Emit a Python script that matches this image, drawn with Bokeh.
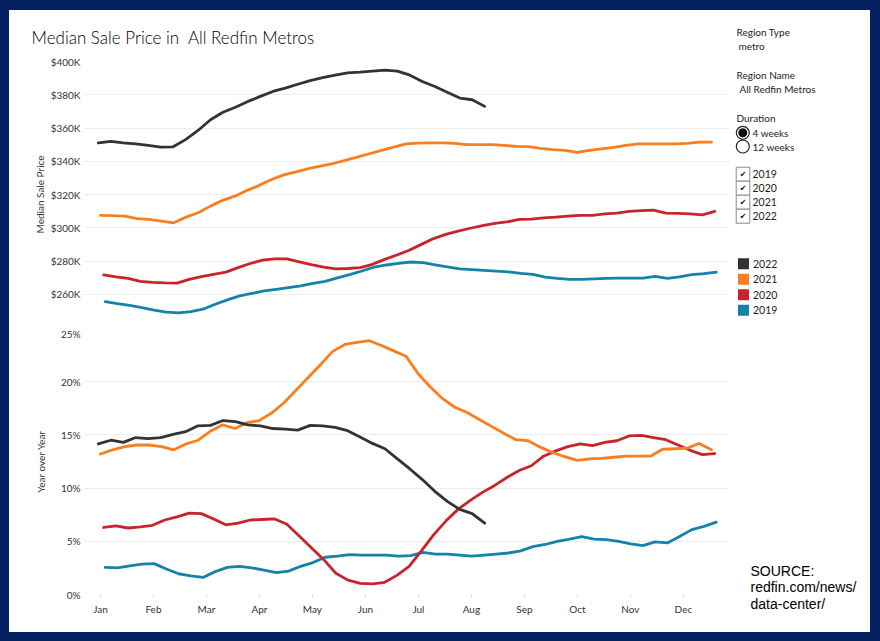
import numpy as np
from bokeh.plotting import figure
from bokeh.layouts import row, column
from bokeh.models import Range1d, FixedTicker, Spacer, GlobalInlineStyleSheet
from bokeh.core.properties import value
from bokeh.embed import file_html
from bokeh.resources import INLINE

# ---------------- data ----------------
MONTHS = ["Jan", "Feb", "Mar", "Apr", "May", "Jun", "Jul", "Aug", "Sep", "Oct", "Nov", "Dec"]
MONTH_TICKS = list(range(12))

YEARS = ["2022", "2021", "2020", "2019"]
COLORS = ["#333333", "#FA7D1E", "#C9232B", "#1483A7"]

# first / last weekly data point of each year, in months after Jan 1
WEEK_SPAN = {
    "2022": (-0.04, 7.25),
    "2021": (0.00, 11.53),
    "2020": (0.06, 11.59),
    "2019": (0.09, 11.62),
}

PRICE_TICKS = [240, 260, 280, 300, 320, 340, 360, 380, 400]
PRICE_LABELS = ["", "$260K", "$280K", "$300K", "$320K", "$340K", "$360K", "$380K", "$400K"]
YOY_TICKS = [0, 5, 10, 15, 20, 25]
YOY_LABELS = ["0%", "5%", "10%", "15%", "20%", "25%"]

# median sale price, $K
PRICE_2022 = [351, 352, 351, 350.5, 349.5, 348.5, 348.7, 353, 358.5, 365,
              369.5, 372.5, 376, 379, 382, 384, 386.3, 388.5, 390.3, 391.8,
              393.2, 393.6, 394.2, 394.8, 394.2, 391.8, 388, 385, 381.5, 378,
              377, 373]
PRICE_2021 = [307.4, 307.3, 307, 305.5, 305, 304, 303, 306.4, 309, 313,
              316.5, 319, 322.5, 325.5, 329, 331.8, 333.6, 335.5, 337, 338.5,
              340.5, 342.5, 344.5, 346.5, 348.5, 350.5, 350.9, 351, 351, 350.8,
              350, 350, 350, 349.5, 349, 348.8, 347.8, 347, 346.5, 345.3,
              346.5, 347.5, 348.3, 349.5, 350.5, 350.5, 350.5, 350.5, 350.7, 351.5,
              351.5]
PRICE_2020 = [271.7, 270.5, 269.5, 267.8, 267.2, 266.8, 266.7, 268.9, 270.6, 271.9,
              273.3, 276, 278.5, 280.5, 281.3, 281.3, 279.5, 277.8, 276.3, 275.3,
              275.5, 276, 278, 281, 283.6, 286.5, 290, 293.5, 296, 298,
              299.7, 301.3, 302.6, 303.5, 305, 305.2, 306, 306.4, 307, 307.4,
              307.4, 308.4, 308.8, 309.8, 310.3, 310.6, 308.8, 308.6, 308.3, 307.8,
              309.8]
PRICE_2019 = [255.6, 254.3, 253.3, 252, 250.5, 249.3, 248.8, 249.6, 251, 254,
              256.6, 259, 260.5, 262, 263, 264, 265, 266.5, 267.8, 269.8,
              271.8, 274, 276.3, 277.6, 278.6, 279.4, 279, 277.7, 276.5, 275.3,
              274.8, 274.4, 273.9, 273.5, 272.6, 272, 270.3, 269.5, 269, 268.9,
              269.3, 269.6, 269.7, 269.7, 269.7, 270.7, 269.5, 270.5, 271.8, 272.4,
              273.3]

# year over year change, %
YOY_2022 = [14.15, 14.5, 14.3, 14.75, 14.65, 14.75, 15.05, 15.3, 15.85, 15.9,
            16.35, 16.25, 15.95, 15.85, 15.6, 15.55, 15.45, 15.9, 15.85, 15.7,
            15.4, 14.8, 14.2, 13.7, 12.75, 11.8, 10.8, 9.7, 8.75, 8.0,
            7.6, 6.7]
YOY_2021 = [13.2, 13.6, 13.9, 14.05, 14.05, 13.9, 13.6, 14.15, 14.5, 15.35,
            15.95, 15.6, 16.15, 16.35, 17.05, 18.0, 19.2, 20.4, 21.6, 22.85,
            23.5, 23.7, 23.85, 23.4, 22.9, 22.4, 20.75, 19.5, 18.4, 17.6,
            17.1, 16.45, 15.8, 15.15, 14.55, 14.45, 13.85, 13.35, 12.95, 12.6,
            12.75, 12.8, 12.9, 13.0, 13.0, 13.0, 13.65, 13.7, 13.75, 14.2,
            13.6]
YOY_2020 = [6.3, 6.45, 6.25, 6.35, 6.5, 7.0, 7.3, 7.65, 7.6, 7.1,
            6.55, 6.7, 7.0, 7.05, 7.1, 6.6, 5.5, 4.4, 3.3, 2.0,
            1.35, 1.05, 1.0, 1.15, 1.8, 2.65, 4.1, 5.6, 6.9, 8.0,
            8.85, 9.6, 10.25, 11.0, 11.65, 12.1, 13.0, 13.5, 13.9, 14.15,
            14.0, 14.3, 14.45, 14.9, 14.95, 14.75, 14.55, 14.05, 13.55, 13.15,
            13.25]
YOY_2019 = [2.55, 2.5, 2.7, 2.85, 2.9, 2.4, 1.95, 1.75, 1.6, 2.15,
            2.55, 2.65, 2.5, 2.3, 2.05, 2.2, 2.65, 3.0, 3.5, 3.6,
            3.75, 3.7, 3.7, 3.7, 3.6, 3.65, 3.95, 3.8, 3.8, 3.7,
            3.6, 3.7, 3.8, 3.9, 4.1, 4.5, 4.7, 5.0, 5.2, 5.45,
            5.2, 5.15, 5.0, 4.75, 4.6, 4.95, 4.85, 5.45, 6.1, 6.4,
            6.8]

PRICES = {"2022": PRICE_2022, "2021": PRICE_2021, "2020": PRICE_2020, "2019": PRICE_2019}
YOYS = {"2022": YOY_2022, "2021": YOY_2021, "2020": YOY_2020, "2019": YOY_2019}

TITLE = "Median Sale Price in \u00a0All Redfin Metros"
FILTERS = [("Region Type", "metro"), ("Region Name", "All Redfin Metros")]
DURATIONS = ["4 weeks", "12 weeks"]
CHECKED_YEARS = ["2019", "2020", "2021", "2022"]
SOURCE = ["SOURCE:", "redfin.com/news/", "data-center/"]

# ---------------- style ----------------
FONT = "Lato"
TXT = "#333333"
GRID = "#EDEDED"
NAVY = "#022060"
X_RANGE = (-0.32, 11.87)


def style_y(p, ticks, labels, title, title_standoff):
    ax = p.yaxis[0]
    ax.ticker = FixedTicker(ticks=ticks)
    ax.major_label_overrides = dict(zip(ticks, labels))
    ax.axis_label = title
    ax.axis_label_text_font = FONT
    ax.axis_label_text_font_size = "10px"
    ax.axis_label_text_font_style = "normal"
    ax.axis_label_text_color = TXT
    ax.axis_label_standoff = title_standoff
    ax.major_label_text_font = FONT
    ax.major_label_text_font_size = "10px"
    ax.major_label_text_color = TXT
    ax.major_label_standoff = 3
    ax.axis_line_color = None
    ax.major_tick_line_color = None
    ax.major_tick_out = 0
    ax.major_tick_in = 0
    ax.minor_tick_line_color = None
    p.ygrid.grid_line_color = GRID
    p.xgrid.visible = False
    p.outline_line_color = None


top = figure(title=TITLE, frame_width=646, frame_height=266,
             min_border_left=74, min_border_right=0, min_border_top=51, min_border_bottom=0,
             x_range=Range1d(*X_RANGE), y_range=Range1d(240, 400),
             x_axis_location=None, output_backend="svg", toolbar_location=None)
top.title.align = "left"
top.title.offset = -52
top.title.standoff = 27
top.title.text_font = "Lato Light, Lato"
top.title.text_font_size = "17px"
top.title.text_font_style = "normal"
top.title.text_color = "#000000"
style_y(top, PRICE_TICKS, PRICE_LABELS, "Median Sale Price", 2)

bot = figure(title=None, frame_width=646, frame_height=266,
             min_border_left=74, min_border_right=0, min_border_top=1, min_border_bottom=38,
             x_range=Range1d(*X_RANGE), y_range=Range1d(0, 25),
             output_backend="svg", toolbar_location=None)
style_y(bot, YOY_TICKS, YOY_LABELS, "Year over Year", 11)
xa = bot.xaxis[0]
xa.ticker = FixedTicker(ticks=MONTH_TICKS)
xa.major_label_overrides = dict(zip(MONTH_TICKS, MONTHS))
xa.major_label_text_font = FONT
xa.major_label_text_font_size = "10px"
xa.major_label_text_color = TXT
xa.major_label_standoff = 5
xa.axis_line_color = None
xa.major_tick_line_color = "#D9D9D9"
xa.major_tick_out = 3
xa.major_tick_in = 0
xa.minor_tick_line_color = None

for year, color in reversed(list(zip(YEARS, COLORS))):
    start, end = WEEK_SPAN[year]
    xs = np.linspace(start, end, len(PRICES[year]))
    top.line(xs, PRICES[year], line_color=color, line_width=2.8,
             line_join="round", line_cap="round")
    xs2 = np.linspace(start, end, len(YOYS[year]))
    bot.line(xs2, YOYS[year], line_color=color, line_width=2.8,
             line_join="round", line_cap="round")

# ---------------- side panel (filters, legend, source) ----------------
side = figure(title=None, width=141, height=622, x_range=Range1d(0, 141), y_range=Range1d(622, 0),
              min_border=0, min_border_left=0, min_border_right=0, min_border_top=0, min_border_bottom=0,
              x_axis_location=None, y_axis_location=None,
              output_backend="svg", toolbar_location=None)
side.grid.visible = False
side.outline_line_color = None

def side_text(x, y, texts, size="10px", font=FONT, color="#222222", align="left"):
    side.text(x=x, y=y, text=texts, text_font=value(font), text_font_size=size,
              text_color=color, text_baseline="middle", text_align=align)

side_text([7, 9], [21, 35], [FILTERS[0][0], FILTERS[0][1]])
side_text([7, 10], [64.5, 78.5], [FILTERS[1][0], FILTERS[1][1]])
side_text([7], [107.5], ["Duration"])

# radio buttons
side.scatter(x=[13.3, 13.3], y=[122.3, 136], size=13, marker="circle",
             fill_color="white", line_color="#222222", line_width=1.2)
side.scatter(x=[13.3], y=[122.3], size=9, marker="circle", fill_color="#111111", line_color=None)
side_text([23, 23], [122.3, 136], DURATIONS)

# year check boxes
cb_y = [163.7, 177.7, 191.7, 205.7]
side.rect(x=[13.5] * 4, y=cb_y, width=13.6, height=14, fill_color="white",
          line_color="#8A8A8A", line_width=1)
side_text([13.5] * 4, [y + 0.5 for y in cb_y], ["\u2714"] * 4, size="8px",
          font="DejaVu Sans", color="#111111", align="center")
side_text([23] * 4, cb_y, CHECKED_YEARS, size="10.5px")

# colour legend
lg_y = [253.3, 268.7, 284.3, 299.7]
side.rect(x=[14] * 4, y=lg_y, width=11, height=11, fill_color=COLORS, line_color=None)
side_text([23.5] * 4, lg_y, YEARS, size="10.5px")

# source
side_text([21] * 3, [560, 576.7, 593.3], SOURCE, size="14px",
          font="Liberation Sans", color="#000000")

WHITE = {"background-color": "white"}
content = row(column(top, bot, styles=WHITE), side, styles=WHITE)
page = column(Spacer(height=10), row(Spacer(width=9), content))
page.stylesheets = [GlobalInlineStyleSheet(css="body { background-color: %s; }" % NAVY)]

open("out.html", "w").write(file_html(page, INLINE))
